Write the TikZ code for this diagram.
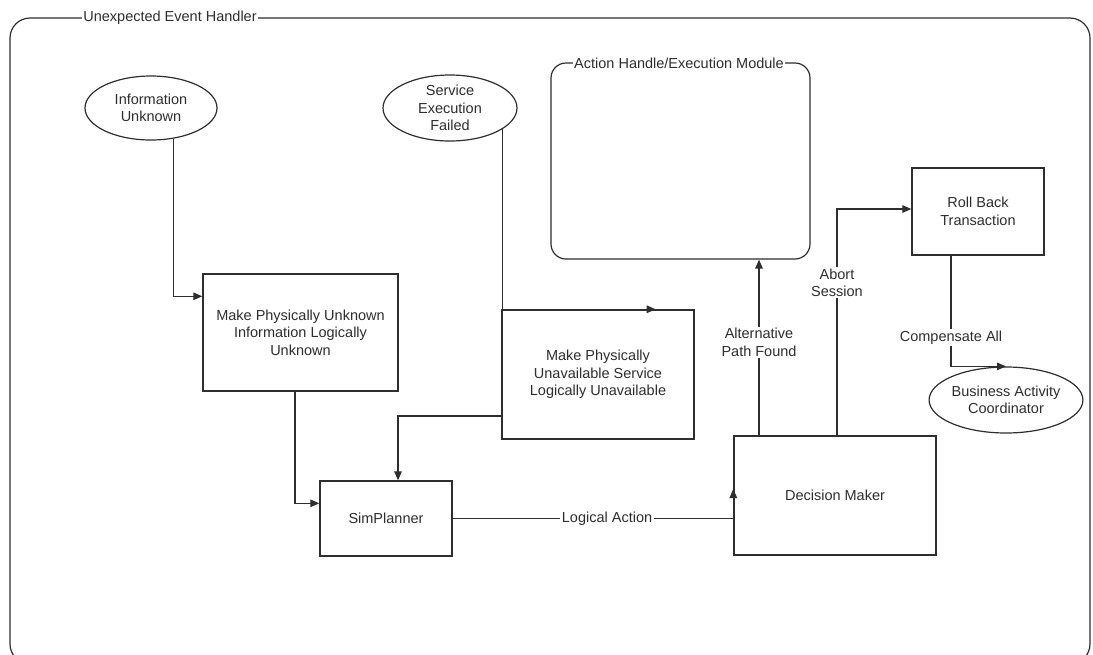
\documentclass[tikz,border=0pt]{standalone}
\usepackage{fontspec}
\setmainfont{Liberation Sans}
\usetikzlibrary{arrows.meta,shapes.geometric}
\definecolor{ink}{HTML}{2E2E2E}
\tikzset{
  every node/.style={font=\fontsize{14.5}{17.5}\selectfont, text=ink},
  box/.style={draw=ink, line width=1.4pt, rectangle, inner sep=0pt, align=center},
  oval/.style={draw=ink, line width=1.2pt, ellipse, inner sep=0pt, align=center},
  group/.style={draw=ink, line width=1.2pt, rectangle, inner sep=0pt},
  grouptitle/.style={fill=white, inner sep=1pt},
  conn/.style={draw=ink, line width=1.3pt, -{Triangle[length=9pt,width=7.5pt]}},
  lbl/.style={fill=white, inner sep=1.5pt, align=center},
}
\begin{document}
\begin{tikzpicture}[x=1pt, y=-1pt]
  \useasboundingbox[fill=white] (0,0) rectangle (1093,654);
  \clip (0,0) rectangle (1093,654);

  % outer container
  \node[group, rounded corners=20pt, minimum width=1080pt, minimum height=646pt] (handler) at (550,341) {};
  \node[grouptitle] (handlertitle) at (170,18) {Unexpected Event Handler};

  % action handling container
  \node[group, rounded corners=15pt, minimum width=259pt, minimum height=196pt] (actionmod) at (680.5,161) {};
  \node[grouptitle] (actiontitle) at (679,63) {Action Handle/Execution Module};

  % events
  \node[oval, minimum width=132pt, minimum height=64pt] (infounk) at (151,108) {Information\\Unknown};
  \node[oval, minimum width=134pt, minimum height=66pt] (sef) at (450,108) {Service\\Execution\\Failed};
  \node[oval, minimum width=132pt, minimum height=66pt] (bac) at (1006,400) {Business Activity\\Coordinator};

  % processing steps
  \node[box, minimum width=195pt, minimum height=117pt] (unknownbox) at (300.5,332.5)
       {Make Physically Unknown\\Information Logically\\Unknown};
  \node[box, minimum width=192pt, minimum height=129pt] (unavail) at (598,374.5)
       {Make Physically\\Unavailable Service\\Logically Unavailable};
  \node[box, minimum width=132pt, minimum height=75pt] (simplanner) at (386,518.5) {SimPlanner};
  \node[box, minimum width=202pt, minimum height=119pt] (decision) at (835,495.5) {Decision Maker};
  \node[box, minimum width=132pt, minimum height=87pt] (rollback) at (978,211.5) {Roll Back\\Transaction};

  % connectors
  \draw[conn] (infounk.-54) |- ([yshift=-23pt]unknownbox.north west);
  \draw[conn] ([xshift=-5.5pt]unknownbox.south) |- ([yshift=-23pt]simplanner.north west);
  \draw[conn] (sef.-22) |- ([xshift=-39pt]unavail.north east);
  \draw[conn] ([yshift=-41.5pt]unavail.west) -| ([xshift=12pt]simplanner.north);
  \draw[conn] (simplanner.east) -- node[lbl, pos=0.55] {Logical Action}
              (simplanner.east -| decision.west) -- ([yshift=6.5pt]decision.west);
  \draw[conn] ([xshift=-76pt]decision.north) -- node[lbl, pos=0.53] {Alternative\\Path Found}
              ([xshift=-76pt]decision.north |- actionmod.south);
  \draw[conn] ([xshift=2pt]decision.north) |- node[lbl, pos=0.337] {Abort\\Session}
              ([yshift=2.5pt]rollback.west);
  \draw[conn] ([xshift=-27pt]rollback.south) |- node[lbl, pos=0.37] {Compensate All}
              (bac.north);
\end{tikzpicture}
\end{document}
